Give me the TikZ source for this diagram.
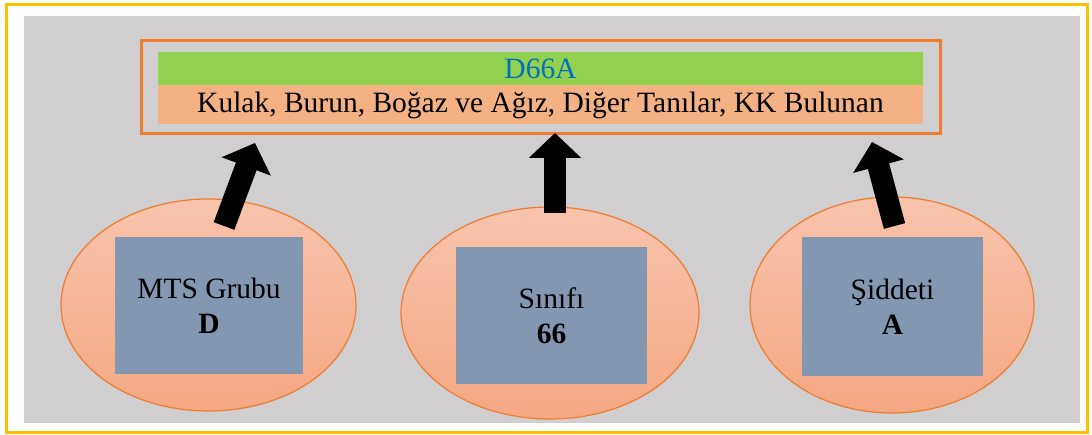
\documentclass[tikz,border=0pt]{standalone}
\usepackage{fontspec}
\setmainfont{Liberation Serif}
\usetikzlibrary{shapes.geometric,arrows.meta}
\definecolor{frameyellow}{HTML}{FFC000}
\definecolor{panelgray}{HTML}{D0CECE}
\definecolor{accentorange}{HTML}{ED7D31}
\definecolor{bargreen}{HTML}{92D050}
\definecolor{barorange}{HTML}{F4B183}
\definecolor{boxblue}{HTML}{8497B0}
\definecolor{textblue}{HTML}{0070C0}
\definecolor{elltop}{RGB}{248,195,172}
\definecolor{ellbot}{RGB}{245,168,130}
\tikzset{
  ellnode/.style={ellipse, draw=accentorange, line width=1.2pt, top color=elltop, bottom color=ellbot, inner sep=0pt},
  infobox/.style={rectangle, fill=boxblue, inner sep=0pt, align=center, font=\fontsize{29.5}{35}\selectfont},
  blockarrow/.style={draw=black, line width=22pt, -{Triangle[width=51pt,length=25pt]}},
  bartext/.style={anchor=base, font=\fontsize{29.5}{34}\selectfont, inner sep=0pt}
}
\begin{document}
\begin{tikzpicture}[x=1pt,y=-1pt]
\useasboundingbox (0,0) rectangle (1092,435);
\fill[white] (0,0) rectangle (1092,435);
\draw[frameyellow, line width=3pt] (6,5) rectangle (1087,432);
\fill[panelgray] (24,16) rectangle (1080,423);
% top box
\node[draw=accentorange, line width=3pt, inner sep=0pt, minimum width=799pt, minimum height=93pt] (top) at (540.5,87.5) {};
\node[fill=bargreen, inner sep=0pt, minimum width=765pt, minimum height=33pt] (code) at (540.5,68.5) {};
\node[fill=barorange, inner sep=0pt, minimum width=765pt, minimum height=39pt] (desc) at (540.5,104.5) {};
\node[bartext, text=textblue] (codetext) at (540.5,79) {D66A};
\node[bartext] (desctext) at (540.5,113) {Kulak, Burun, Boğaz ve Ağız, Diğer Tanılar, KK Bulunan};
% ellipses
\node[ellnode, minimum width=295pt, minimum height=212pt] (e1) at (208.5,305) {};
\node[ellnode, minimum width=298pt, minimum height=212pt] (e2) at (550,313) {};
\node[ellnode, minimum width=284pt, minimum height=216pt] (e3) at (892,305) {};
% boxes
\node[infobox, minimum width=188pt, minimum height=137pt] (b1) at (209,305.5) {MTS Grubu\\\textbf{D}};
\node[infobox, minimum width=191pt, minimum height=137pt] (b2) at (551.5,315.5) {Sınıfı\\\textbf{66}};
\node[infobox, minimum width=181pt, minimum height=139pt] (b3) at (892.5,306.5) {Şiddeti\\\textbf{A}};
% arrows
\coordinate (t1) at (224,226);
\coordinate (h1) at (255,143);
\coordinate (t2) at (555,213);
\coordinate (h2) at (555,133);
\coordinate (t3) at (894.5,226);
\coordinate (h3) at (872,142);
\draw[blockarrow] (t1) -- (h1);
\draw[blockarrow] (t2) -- (h2);
\draw[blockarrow] (t3) -- (h3);
\end{tikzpicture}
\end{document}
